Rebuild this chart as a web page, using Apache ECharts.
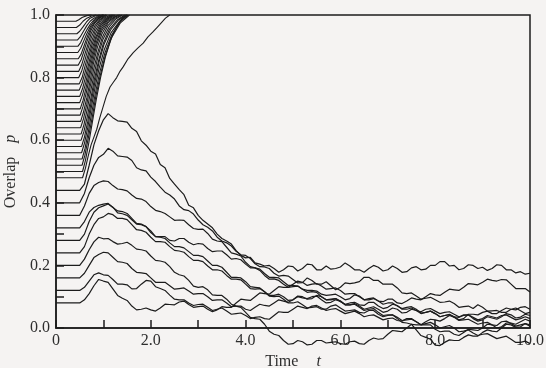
<!DOCTYPE html>
<html>
<head>
<meta charset="utf-8">
<script src="https://cdn.jsdelivr.net/npm/echarts@6/dist/echarts.min.js"></script>
<style>
  html, body { margin: 0; padding: 0; background: #f5f3f2; }
  #chart { width: 546px; height: 368px; }
</style>
</head>
<body>
<div id="chart"></div>
<script>
// Time grid shared by the non-retrieving (noisy) overlap trajectories
const tGrid = [0, 0.5, 0.6, 0.7, 0.8, 0.9,
  1.0, 1.1, 1.2, 1.3, 1.4, 1.5, 1.6, 1.7, 1.8, 1.9,
  2.0, 2.1, 2.2, 2.3, 2.4, 2.5, 2.6, 2.7, 2.8, 2.9,
  3.0, 3.1, 3.2, 3.3, 3.4, 3.5, 3.6, 3.7, 3.8, 3.9,
  4.0, 4.1, 4.2, 4.3, 4.4, 4.5, 4.6, 4.7, 4.8, 4.9,
  5.0, 5.1, 5.2, 5.3, 5.4, 5.5, 5.6, 5.7, 5.8, 5.9,
  6.0, 6.1, 6.2, 6.3, 6.4, 6.5, 6.6, 6.7, 6.8, 6.9,
  7.0, 7.1, 7.2, 7.3, 7.4, 7.5, 7.6, 7.7, 7.8, 7.9,
  8.0, 8.1, 8.2, 8.3, 8.4, 8.5, 8.6, 8.7, 8.8, 8.9,
  9.0, 9.1, 9.2, 9.3, 9.4, 9.5, 9.6, 9.7, 9.8, 9.9,
  10.0];

// Trajectories that fail to reach the stored pattern (initial overlap 0.44 down to 0.08)
const pA = [.44,.44,.46,.52,.585,.63,
  .665,.685,.672,.662,.66,.658,.638,.628,.598,.584,
  .565,.556,.522,.512,.478,.46,.442,.426,.392,.384,
  .36,.344,.332,.32,.30,.286,.278,.268,.247,.232,
  .224,.226,.208,.204,.198,.2,.19,.178,.186,.198,
  .196,.182,.19,.204,.202,.186,.186,.198,.188,.19,
  .195,.208,.198,.186,.186,.178,.19,.2,.194,.182,
  .186,.198,.19,.178,.18,.192,.196,.186,.188,.2,
  .2,.212,.212,.198,.2,.186,.19,.202,.2,.19,
  .194,.184,.19,.202,.2,.186,.186,.176,.18,.172,
  .175];
const pB = [.40,.40,.43,.48,.52,.545,
  .555,.574,.565,.55,.548,.546,.535,.512,.505,.502,
  .482,.468,.45,.434,.425,.412,.39,.378,.375,.364,
  .345,.33,.322,.31,.29,.278,.272,.262,.245,.234,
  .232,.222,.205,.196,.195,.19,.175,.166,.168,.166,
  .155,.144,.145,.16,.152,.14,.14,.148,.135,.122,
  .13,.144,.142,.144,.148,.162,.162,.152,.152,.14,
  .14,.14,.128,.112,.11,.112,.102,.092,.095,.098,
  .09,.082,.083,.086,.078,.066,.068,.07,.062,.074,
  .066,.054,.055,.056,.05,.05,.06,.064,.055,.046,
  .05];
const pC = [.36,.36,.39,.43,.455,.465,
  .47,.468,.455,.444,.442,.438,.425,.414,.412,.404,
  .388,.376,.372,.366,.355,.344,.345,.344,.33,.318,
  .315,.316,.302,.284,.278,.276,.258,.24,.236,.23,
  .21,.196,.192,.184,.168,.156,.157,.152,.14,.13,
  .132,.134,.124,.12,.12,.118,.108,.104,.106,.108,
  .10,.09,.094,.106,.102,.09,.09,.094,.086,.084,
  .092,.092,.08,.078,.086,.096,.092,.09,.1,.11,
  .106,.104,.114,.124,.122,.12,.13,.142,.14,.138,
  .146,.156,.152,.15,.155,.154,.14,.126,.126,.126,
  .115];
const pD = [.32,.32,.34,.37,.385,.392,
  .396,.398,.385,.374,.372,.366,.35,.334,.332,.324,
  .305,.292,.292,.292,.28,.278,.286,.286,.274,.266,
  .27,.268,.254,.244,.246,.246,.234,.22,.222,.218,
  .204,.192,.192,.188,.174,.162,.162,.16,.148,.136,
  .136,.134,.124,.114,.116,.114,.1,.09,.092,.094,
  .084,.076,.08,.082,.074,.072,.082,.082,.07,.062,
  .066,.076,.072,.06,.06,.064,.056,.046,.05,.054,
  .046,.036,.04,.044,.036,.034,.042,.042,.03,.022,
  .026,.036,.032,.028,.036,.046,.042,.032,.035,.044,
  .04];
const pE = [.28,.28,.30,.34,.37,.384,
  .39,.396,.386,.368,.365,.36,.346,.332,.33,.324,
  .31,.292,.29,.286,.272,.26,.26,.256,.244,.232,
  .232,.228,.214,.2,.2,.194,.178,.162,.162,.16,
  .148,.132,.13,.128,.116,.102,.1,.102,.092,.08,
  .08,.084,.074,.064,.066,.068,.06,.06,.07,.074,
  .064,.054,.056,.058,.05,.048,.056,.056,.044,.036,
  .04,.042,.034,.024,.026,.028,.02,.01,.01,.01,
  -.004,-.012,-.01,-.01,-.02,-.024,-.014,-.004,-.006,-.008,
  0,.012,.01,0,.004,.016,.016,.012,.02,.028,
  .022];
const pF = [.24,.24,.26,.30,.33,.35,
  .355,.366,.362,.35,.35,.346,.33,.314,.312,.306,
  .29,.276,.276,.274,.26,.248,.246,.242,.228,.216,
  .216,.212,.198,.186,.186,.182,.168,.156,.156,.154,
  .14,.126,.124,.126,.116,.104,.104,.108,.1,.088,
  .09,.1,.096,.094,.1,.102,.09,.08,.082,.09,
  .086,.074,.074,.076,.066,.056,.06,.062,.05,.04,
  .042,.042,.03,.018,.016,.012,-.006,-.024,-.03,-.036,
  -.055,-.056,-.046,-.038,-.04,-.04,-.03,-.022,-.026,-.026,
  -.014,-.006,-.01,-.012,0,.012,.01,.002,.004,.014,
  .01];
const pG = [.20,.20,.22,.25,.275,.29,
  .285,.286,.276,.268,.27,.274,.264,.252,.25,.246,
  .23,.216,.214,.21,.196,.178,.17,.166,.152,.134,
  .13,.132,.122,.106,.104,.104,.092,.076,.07,.066,
  .05,.034,.03,.028,.012,-.01,-.02,-.024,-.04,-.052,
  -.05,-.04,-.044,-.054,-.052,-.04,-.04,-.048,-.046,-.044,
  -.05,-.052,-.044,-.042,-.05,-.052,-.04,-.032,-.036,-.034,
  -.02,-.008,-.01,-.012,0,.012,.01,.01,.02,.028,
  .026,.022,.03,.04,.036,.026,.03,.044,.044,.042,
  .05,.054,.046,.046,.056,.064,.06,.058,.066,.068,
  .06];
const pH = [.16,.16,.175,.20,.225,.235,
  .242,.24,.226,.212,.21,.206,.19,.178,.176,.174,
  .16,.146,.146,.146,.135,.124,.126,.128,.118,.108,
  .11,.11,.1,.088,.09,.09,.08,.068,.07,.07,
  .06,.056,.066,.076,.072,.07,.08,.09,.086,.082,
  .09,.102,.1,.092,.094,.104,.1,.09,.09,.094,
  .086,.074,.074,.078,.07,.06,.064,.068,.06,.05,
  .054,.064,.06,.048,.05,.06,.056,.052,.06,.062,
  .054,.046,.05,.052,.044,.036,.04,.042,.034,.026,
  .03,.04,.036,.032,.04,.042,.034,.026,.03,.036,
  .03];
const pI = [.12,.12,.13,.15,.17,.176,
  .17,.168,.155,.14,.14,.138,.125,.126,.14,.152,
  .15,.132,.126,.12,.105,.092,.09,.09,.08,.072,
  .075,.076,.066,.056,.06,.064,.054,.044,.046,.048,
  .04,.03,.034,.036,.03,.028,.04,.052,.05,.05,
  .06,.07,.066,.062,.07,.072,.064,.056,.06,.062,
  .054,.046,.05,.054,.046,.036,.04,.042,.034,.026,
  .03,.032,.024,.022,.03,.03,.02,.01,.014,.018,
  .01,0,.004,.008,0,-.012,-.01,-.006,-.016,-.024,
  -.02,-.018,-.026,-.034,-.03,-.026,-.036,-.046,-.046,-.042,
  -.05];
const pJ = [.08,.08,.09,.11,.135,.155,
  .15,.146,.125,.104,.095,.088,.07,.058,.06,.064,
  .058,.054,.064,.076,.075,.074,.083,.086,.075,.066,
  .068,.07,.06,.052,.058,.068,.066,.066,.08,.092,
  .09,.088,.1,.112,.11,.108,.12,.132,.13,.13,
  .14,.15,.146,.136,.14,.142,.134,.124,.126,.128,
  .12,.108,.11,.11,.1,.09,.094,.096,.086,.076,
  .08,.08,.07,.062,.066,.068,.06,.048,.05,.054,
  .046,.036,.04,.042,.034,.024,.026,.028,.02,.012,
  .016,.018,.01,.008,.02,.022,.014,.006,.01,.014,
  .006];
const noisyRuns = [pA, pB, pC, pD, pE, pF, pG, pH, pI, pJ];

// Trajectories that converge to the pattern (initial overlap 0.98 down to 0.48), as [t, p] pairs
const retrieved = [
  [[0,.98],[.42,.98],[.48,.985],[.55,.992],[.65,.998],[.75,1]],
  [[0,.96],[.43,.96],[.5,.968],[.57,.98],[.65,.99],[.75,.997],[.85,1]],
  [[0,.94],[.44,.94],[.5,.948],[.57,.962],[.64,.977],[.72,.99],[.82,.997],[.92,1]],
  [[0,.92],[.45,.92],[.51,.93],[.58,.948],[.65,.966],[.72,.98],[.8,.99],[.9,.998],[1.0,1]],
  [[0,.90],[.46,.90],[.52,.912],[.59,.935],[.66,.955],[.73,.972],[.82,.988],[.92,.997],[1.0,1]],
  [[0,.88],[.46,.88],[.52,.894],[.58,.915],[.65,.94],[.72,.962],[.8,.98],[.9,.993],[1.0,1]],
  [[0,.86],[.47,.86],[.53,.875],[.6,.905],[.67,.935],[.74,.96],[.82,.978],[.92,.992],[1.05,1]],
  [[0,.84],[.47,.84],[.53,.857],[.59,.885],[.66,.918],[.73,.948],[.8,.97],[.9,.988],[1.02,1]],
  [[0,.82],[.48,.82],[.54,.84],[.6,.87],[.67,.905],[.74,.94],[.82,.966],[.92,.985],[1.05,1]],
  [[0,.80],[.48,.80],[.54,.82],[.61,.855],[.68,.895],[.75,.93],[.83,.96],[.93,.983],[1.08,1]],
  [[0,.78],[.49,.78],[.55,.80],[.61,.835],[.68,.875],[.75,.915],[.83,.95],[.93,.977],[1.05,.993],[1.15,1]],
  [[0,.76],[.49,.76],[.55,.782],[.62,.82],[.69,.865],[.76,.905],[.84,.942],[.94,.972],[1.06,.99],[1.18,1]],
  [[0,.74],[.5,.74],[.56,.765],[.62,.80],[.69,.845],[.76,.89],[.84,.93],[.94,.965],[1.06,.987],[1.2,1]],
  [[0,.72],[.5,.72],[.56,.745],[.63,.785],[.7,.835],[.77,.88],[.85,.925],[.95,.96],[1.07,.985],[1.22,1]],
  [[0,.70],[.51,.70],[.57,.727],[.63,.765],[.7,.815],[.77,.865],[.85,.912],[.95,.953],[1.08,.982],[1.25,1]],
  [[0,.68],[.51,.68],[.57,.708],[.64,.752],[.71,.805],[.78,.855],[.86,.905],[.96,.948],[1.1,.98],[1.25,.996],[1.32,1]],
  [[0,.66],[.52,.66],[.58,.69],[.65,.735],[.72,.79],[.79,.845],[.87,.895],[.97,.94],[1.1,.975],[1.25,.994],[1.35,1]],
  [[0,.64],[.52,.64],[.58,.668],[.65,.715],[.72,.77],[.8,.83],[.88,.88],[.98,.93],[1.1,.967],[1.25,.99],[1.38,1]],
  [[0,.62],[.53,.62],[.59,.65],[.66,.70],[.73,.755],[.81,.815],[.89,.87],[.99,.922],[1.12,.962],[1.27,.988],[1.4,1]],
  [[0,.60],[.53,.60],[.59,.628],[.66,.675],[.73,.73],[.81,.795],[.9,.855],[1.0,.91],[1.13,.955],[1.3,.985],[1.45,1]],
  [[0,.58],[.54,.58],[.6,.61],[.67,.66],[.74,.72],[.82,.785],[.91,.85],[1.01,.905],[1.15,.952],[1.32,.984],[1.48,1]],
  [[0,.56],[.54,.56],[.6,.59],[.67,.64],[.74,.70],[.82,.765],[.91,.83],[1.02,.89],[1.16,.943],[1.34,.98],[1.5,1]],
  [[0,.54],[.55,.54],[.61,.572],[.68,.625],[.75,.685],[.83,.75],[.92,.815],[1.03,.878],[1.17,.935],[1.35,.978],[1.52,1]],
  [[0,.52],[.55,.52],[.61,.552],[.68,.605],[.76,.67],[.84,.74],[.93,.805],[1.04,.87],[1.18,.93],[1.36,.975],[1.55,1]],
  [[0,.50],[.56,.50],[.62,.535],[.69,.59],[.77,.66],[.85,.73],[.94,.80],[1.04,.865],[1.15,.92],[1.27,.96],[1.4,.99],[1.5,1]],
  [[0,.48],[.56,.48],[.62,.51],[.68,.55],[.74,.585],[.8,.61],[.86,.635],[.92,.67],[.99,.705],[1.06,.74],[1.14,.77],[1.21,.785],[1.28,.80],[1.35,.82],[1.42,.835],[1.52,.86],[1.63,.88],[1.73,.895],[1.84,.91],[1.94,.93],[2.04,.945],[2.13,.96],[2.22,.975],[2.31,.99],[2.4,1]]
];

// Axis tick labels
const xTickLabels = { 0: '0', 2: '2.0', 4: '4.0', 6: '6.0', 8: '8.0', 10: '10.0' };
const yTickLabels = { 0: '0.0', 2: '0.2', 4: '0.4', 6: '0.6', 8: '0.8', 10: '1.0' };

const ink = '#1c1c1c';
const textInk = '#2e2e2e';
const serif = '"Liberation Serif", "DejaVu Serif", serif';

const lineSeries = [];
noisyRuns.forEach(function (vals) {
  lineSeries.push({
    type: 'line',
    data: tGrid.map(function (t, i) { return [t, vals[i]]; }),
    showSymbol: false,
    clip: false,
    silent: true,
    lineStyle: { color: ink, width: 1.2 }
  });
});
retrieved.forEach(function (pts) {
  lineSeries.push({
    type: 'line',
    data: pts,
    showSymbol: false,
    clip: false,
    silent: true,
    lineStyle: { color: ink, width: 1.1 }
  });
});

const chart = echarts.init(document.getElementById('chart'), null, { renderer: 'canvas' });
chart.setOption({
  animation: false,
  backgroundColor: '#f5f3f2',
  grid: {
    left: 56, right: 16, top: 15, bottom: 40,
    outerBoundsMode: 'none', containLabel: false,
    show: true, borderColor: ink, borderWidth: 1.5, backgroundColor: 'transparent'
  },
  xAxis: {
    type: 'value', min: 0, max: 10, interval: 1,
    axisLine: { show: true, lineStyle: { color: ink, width: 1.5 } },
    axisTick: { inside: true, length: 8, lineStyle: { color: ink, width: 1.5 } },
    splitLine: { show: false },
    axisLabel: {
      color: textInk, fontFamily: serif, fontSize: 16, margin: 5,
      formatter: function (v) { const k = Math.round(v); return xTickLabels[k] !== undefined ? xTickLabels[k] : ''; }
    },
    name: '{a|Time}{t|t}', nameLocation: 'middle', nameGap: 23,
    nameTextStyle: {
      color: textInk, fontFamily: serif, fontSize: 16,
      rich: {
        a: { fontFamily: serif, fontSize: 16, color: textInk },
        t: { fontFamily: serif, fontSize: 16, color: textInk, fontStyle: 'italic', padding: [0, 0, 0, 18] }
      }
    }
  },
  yAxis: {
    type: 'value', min: 0, max: 1, interval: 0.1,
    axisLine: { show: true, lineStyle: { color: ink, width: 1.5 } },
    axisTick: { inside: true, length: 8, lineStyle: { color: ink, width: 1.5 } },
    splitLine: { show: false },
    axisLabel: {
      color: textInk, fontFamily: serif, fontSize: 16, margin: 6,
      formatter: function (v) { const k = Math.round(v * 10); return yTickLabels[k] !== undefined ? yTickLabels[k] : ''; }
    },
    name: '{a|Overlap}{p|p}', nameLocation: 'middle', nameRotate: 90, nameGap: 34,
    nameTextStyle: {
      color: textInk, fontFamily: serif, fontSize: 16,
      rich: {
        a: { fontFamily: serif, fontSize: 16, color: textInk },
        p: { fontFamily: serif, fontSize: 16, color: textInk, fontStyle: 'italic', padding: [0, 0, 0, 14] }
      }
    }
  },
  series: lineSeries
});
</script>
</body>
</html>
